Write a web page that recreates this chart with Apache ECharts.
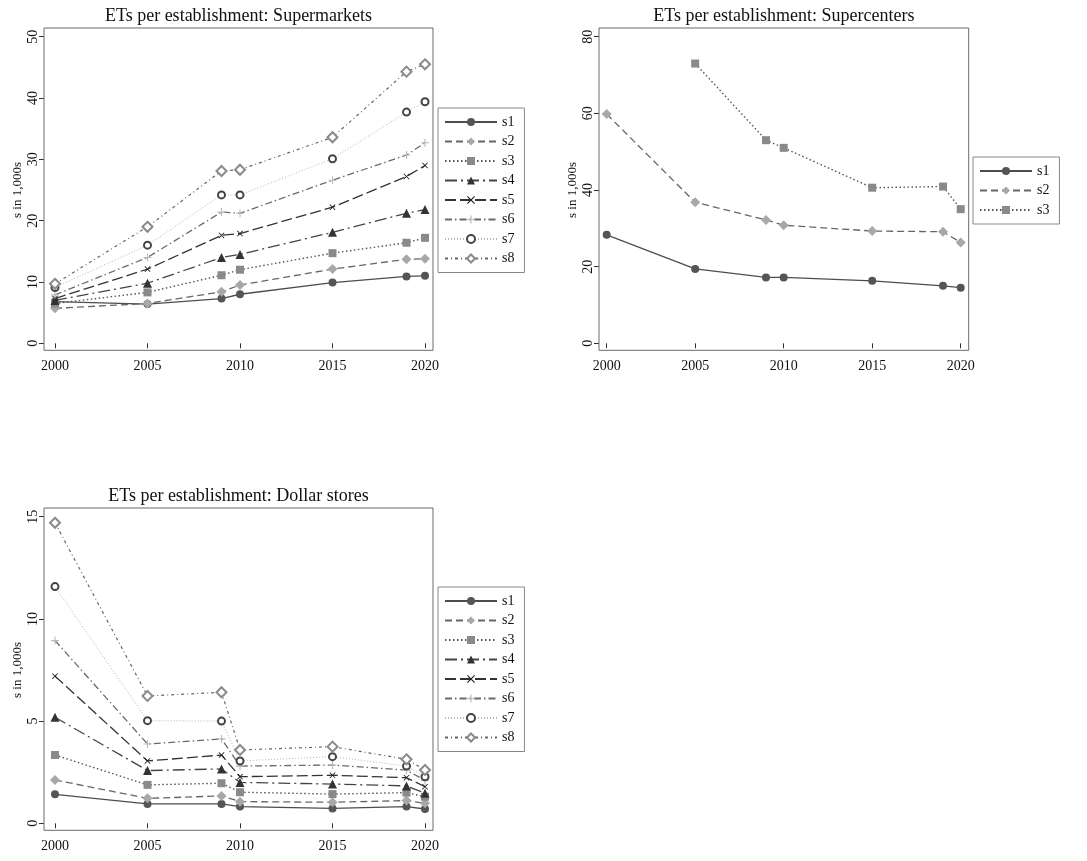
<!DOCTYPE html>
<html>
<head>
<meta charset="utf-8">
<script src="https://cdn.jsdelivr.net/npm/echarts@6/dist/echarts.min.js"></script>
<style>html,body{margin:0;padding:0;background:#fff;}#chart{width:1087px;height:861px;}</style>
</head>
<body>
<div id="chart"></div>
<script>
// ---- data ----
const years = [2000, 2005, 2009, 2010, 2015, 2019, 2020];
const seriesNames = ['s1', 's2', 's3', 's4', 's5', 's6', 's7', 's8'];
const panelTitles = ['ETs per establishment: Supermarkets', 'ETs per establishment: Supercenters', 'ETs per establishment: Dollar stores'];
const yAxisName = 's in 1,000s';

const supermarketsS1 = [6.8, 6.4, 7.3, 8.0, 9.9, 10.9, 11.0];
const supermarketsS2 = [5.7, 6.5, 8.4, 9.5, 12.1, 13.7, 13.8];
const supermarketsS3 = [6.5, 8.3, 11.1, 12.0, 14.7, 16.4, 17.2];
const supermarketsS4 = [7.0, 9.8, 14.0, 14.5, 18.1, 21.2, 21.8];
const supermarketsS5 = [7.3, 12.1, 17.6, 17.9, 22.2, 27.2, 29.0];
const supermarketsS6 = [7.9, 14.0, 21.4, 21.2, 26.6, 30.7, 32.7];
const supermarketsS7 = [9.1, 16.0, 24.2, 24.2, 30.1, 37.7, 39.4];
const supermarketsS8 = [9.7, 19.0, 28.1, 28.3, 33.6, 44.3, 45.5];

const supercentersS1 = [28.3, 19.4, 17.2, 17.2, 16.3, 15.0, 14.5];
const supercentersS2 = [59.8, 36.8, 32.2, 30.8, 29.3, 29.1, 26.3];
const supercentersS3 = [null, 73.0, 53.0, 51.0, 40.6, 40.9, 35.0];

const dollarS1 = [1.42, 0.95, 0.95, 0.82, 0.73, 0.82, 0.70];
const dollarS2 = [2.12, 1.22, 1.34, 1.06, 1.03, 1.11, 0.98];
const dollarS3 = [3.34, 1.88, 1.96, 1.52, 1.43, 1.50, 1.30];
const dollarS4 = [5.19, 2.58, 2.66, 2.00, 1.92, 1.83, 1.47];
const dollarS5 = [7.20, 3.05, 3.34, 2.28, 2.35, 2.23, 1.79];
const dollarS6 = [8.94, 3.88, 4.13, 2.80, 2.85, 2.60, 2.10];
const dollarS7 = [11.58, 5.02, 5.00, 3.05, 3.26, 2.80, 2.28];
const dollarS8 = [14.70, 6.23, 6.41, 3.59, 3.75, 3.13, 2.61];

const supermarketsData = [supermarketsS1, supermarketsS2, supermarketsS3, supermarketsS4, supermarketsS5, supermarketsS6, supermarketsS7, supermarketsS8];
const supercentersData = [supercentersS1, supercentersS2, supercentersS3];
const dollarData = [dollarS1, dollarS2, dollarS3, dollarS4, dollarS5, dollarS6, dollarS7, dollarS8];

const yMax = [50, 80, 15];
const yInterval = [10, 20, 5];

// ---- styles ----
const FONT = '"Liberation Serif", "DejaVu Serif", serif';
const xPath = 'path://M0,1 L1,0 L5,4 L9,0 L10,1 L6,5 L10,9 L9,10 L5,6 L1,10 L0,9 L4,5 Z';
const plusPath = 'path://M4.3,0 H5.7 V4.3 H10 V5.7 H5.7 V10 H4.3 V5.7 H0 V4.3 H4.3 Z';
const styles = [
  {line: '#4d4d4d', item: '#555555', type: 'solid', width: 1.3, symbol: 'circle', size: 8},
  {line: '#666666', item: '#a8a8a8', type: [7, 4], width: 1.3, symbol: 'diamond', size: 10},
  {line: '#555555', item: '#8a8a8a', type: [1.5, 2.5], width: 1.4, symbol: 'rect', size: 8},
  {line: '#444444', item: '#333333', type: [12, 4, 2, 4], width: 1.3, symbol: 'triangle', size: 9},
  {line: '#333333', item: '#222222', type: [11, 4], width: 1.3, symbol: xPath, size: 6},
  {line: '#6a6a6a', item: '#bbbbbb', type: [7, 3, 1.5, 3], width: 1.3, symbol: plusPath, size: 8},
  {line: '#b5b5b5', item: '#444444', type: [1, 2], width: 1, symbol: 'emptyCircle', size: 7},
  {line: '#666666', item: '#8a8a8a', type: [3, 3, 1, 3], width: 1.2, symbol: 'emptyDiamond', size: 10}
];

const grids = [
  {left: 55, top: 36.7, width: 370, height: 306.6},
  {left: 606.7, top: 36.7, width: 354, height: 306.6},
  {left: 55, top: 516.7, width: 370, height: 306.6}
];
const yOff = [11, 7.7, 11];
const xOff = 7;

const panels = [supermarketsData, supercentersData, dollarData];

const series = [];
panels.forEach((data, p) => {
  data.forEach((vals, i) => {
    const st = styles[i];
    series.push({
      type: 'line',
      name: seriesNames[i],
      xAxisIndex: p, yAxisIndex: p,
      data: years.map((y, k) => [y, vals[k]]),
      connectNulls: false,
      symbol: st.symbol,
      symbolSize: st.size,
      showSymbol: true,
      lineStyle: {color: st.line, width: st.width, type: st.type},
      itemStyle: {color: st.item, borderWidth: st.symbol.indexOf('empty') === 0 ? 1.3 : 0},
      animation: false,
      z: 3 + i
    });
  });
});

const xAxes = grids.map((g, p) => ({
  type: 'value', gridIndex: p, min: 2000, max: 2020, interval: 5,
  offset: xOff,
  axisLine: {show: false},
  axisTick: {show: true, length: 5, lineStyle: {color: '#333'}},
  axisLabel: {fontFamily: FONT, fontSize: 14, color: '#111', margin: 9, formatter: v => String(v)},
  splitLine: {show: false}
}));
const yAxes = grids.map((g, p) => ({
  type: 'value', gridIndex: p, min: 0, max: yMax[p], interval: yInterval[p],
  offset: yOff[p],
  name: yAxisName, nameLocation: 'middle', nameRotate: 90, nameGap: 20,
  nameTextStyle: {fontFamily: FONT, fontSize: 13, color: '#111'},
  axisLine: {show: false},
  axisTick: {show: true, length: 5, lineStyle: {color: '#333'}},
  axisLabel: {fontFamily: FONT, fontSize: 14, color: '#111', rotate: 90, margin: 4, formatter: v => String(v)},
  splitLine: {show: false}
}));

const frames = grids.map((g, p) => ({
  type: 'rect', silent: true, z: 1,
  shape: {x: g.left - yOff[p], y: g.top - 8.7, width: g.width + yOff[p] + 8, height: g.height + 8.7 + xOff},
  style: {fill: 'none', stroke: '#6a6a6a', lineWidth: 1}
}));

const titles = grids.map((g, p) => ({
  text: panelTitles[p],
  left: g.left - yOff[p] + (g.width + yOff[p] + 8) / 2,
  top: g.top - 29,
  textAlign: 'center',
  padding: 0,
  textStyle: {fontFamily: FONT, fontSize: 18, fontWeight: 'normal', color: '#111'}
}));

const legendBase = {
  orient: 'vertical',
  borderColor: '#888', borderWidth: 1,
  padding: [7, 10, 7, 6],
  itemWidth: 52, itemHeight: 10, itemGap: 5.5,
  backgroundColor: '#fff',
  textStyle: {fontFamily: FONT, fontSize: 14, color: '#111'}
};
const legends = [
  Object.assign({}, legendBase, {data: seriesNames, left: 438, top: 108}),
  Object.assign({}, legendBase, {data: seriesNames.slice(0, 3), left: 973, top: 157}),
  Object.assign({}, legendBase, {data: seriesNames, left: 438, top: 587})
];

const chart = echarts.init(document.getElementById('chart'), null, {renderer: 'canvas'});
chart.setOption({
  backgroundColor: '#fff',
  animation: false,
  title: titles,
  grid: grids,
  xAxis: xAxes,
  yAxis: yAxes,
  legend: legends,
  graphic: frames,
  series: series
});
</script>
</body>
</html>
